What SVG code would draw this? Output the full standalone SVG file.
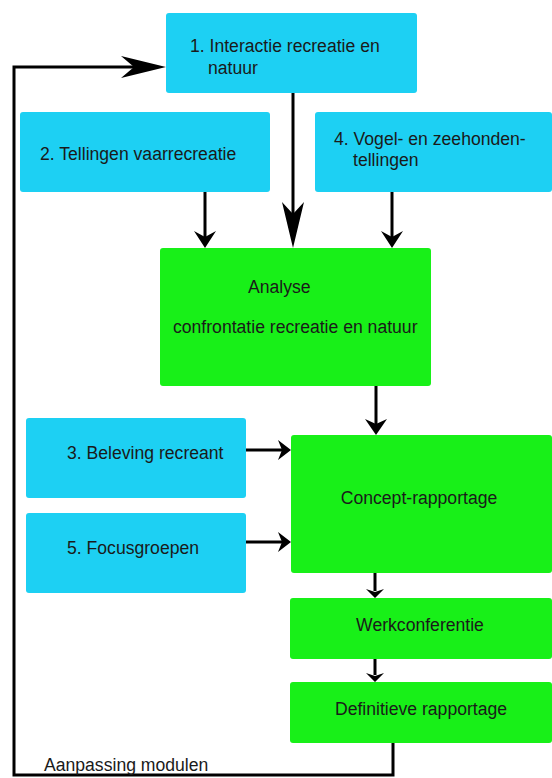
<svg xmlns="http://www.w3.org/2000/svg" width="552" height="778" viewBox="0 0 552 778">
<style>
.b{fill:#1dd0f3}
.g{fill:#18f018}
text{font-family:"Liberation Sans",Arial,sans-serif;font-size:17.6px;fill:#1a1a1a}
.l{stroke:#000;stroke-width:3;fill:none}
.h{fill:#000}
</style>
<rect width="552" height="778" fill="#fff"/>
<g id="n1"><rect class="b" x="166" y="13" width="251" height="80" rx="3"/><text x="190" y="52">1. Interactie recreatie en</text><text x="208" y="74">natuur</text></g>
<g id="n2"><rect class="b" x="20" y="112" width="250" height="80" rx="3"/><text x="40" y="160">2. Tellingen vaarrecreatie</text></g>
<g id="n4"><rect class="b" x="315" y="112" width="237" height="80" rx="3"/><text x="334" y="145">4. Vogel- en zeehonden-</text><text x="353" y="166">tellingen</text></g>
<g id="analyse"><rect class="g" x="160" y="248" width="271" height="138" rx="3"/><text x="248" y="293">Analyse</text><text x="173" y="333">confrontatie recreatie en natuur</text></g>
<g id="n3"><rect class="b" x="26" y="418" width="220" height="80" rx="3"/><text x="67" y="459">3. Beleving recreant</text></g>
<g id="n5"><rect class="b" x="26" y="513" width="220" height="80" rx="3"/><text x="67" y="554">5. Focusgroepen</text></g>
<g id="concept"><rect class="g" x="291" y="435" width="261" height="138" rx="3"/><text x="419" y="504" text-anchor="middle">Concept-rapportage</text></g>
<g id="werk"><rect class="g" x="290" y="598" width="262" height="61" rx="3"/><text x="420" y="631" text-anchor="middle">Werkconferentie</text></g>
<g id="def"><rect class="g" x="290" y="682" width="262" height="61" rx="3"/><text x="421" y="715" text-anchor="middle">Definitieve rapportage</text></g>
<g id="connectors">
<path class="l" d="M393,743 V775 H14 V67 H140"/>
<path class="h" d="M166,67 L121,56 L134,67 L121,78 Z"/>
<path class="l" d="M293,93 V220"/>
<path class="h" d="M293,248 L282,202 L293,214 L304,202 Z"/>
<path class="l" d="M205,192 V238"/>
<path class="h" d="M205,248 L194,231 L205,237 L216,231 Z"/>
<path class="l" d="M392,192 V238"/>
<path class="h" d="M392,248 L381,231 L392,237 L403,231 Z"/>
<path class="l" d="M376,386 V425"/>
<path class="h" d="M376,435 L365,419 L376,424 L387,419 Z"/>
<path class="l" d="M246,450 H282"/>
<path class="h" d="M291,450 L278,440 L282,450 L278,460 Z"/>
<path class="l" d="M246,542 H282"/>
<path class="h" d="M291,542 L278,532 L282,542 L278,552 Z"/>
<path class="l" d="M375,573 V591"/>
<path class="h" d="M375,598 L366,589 L375,592 L384,589 Z"/>
<path class="l" d="M375,659 V675"/>
<path class="h" d="M375,682 L366,673 L375,676 L384,673 Z"/>
</g>
<text x="44" y="771">Aanpassing modulen</text>
</svg>
